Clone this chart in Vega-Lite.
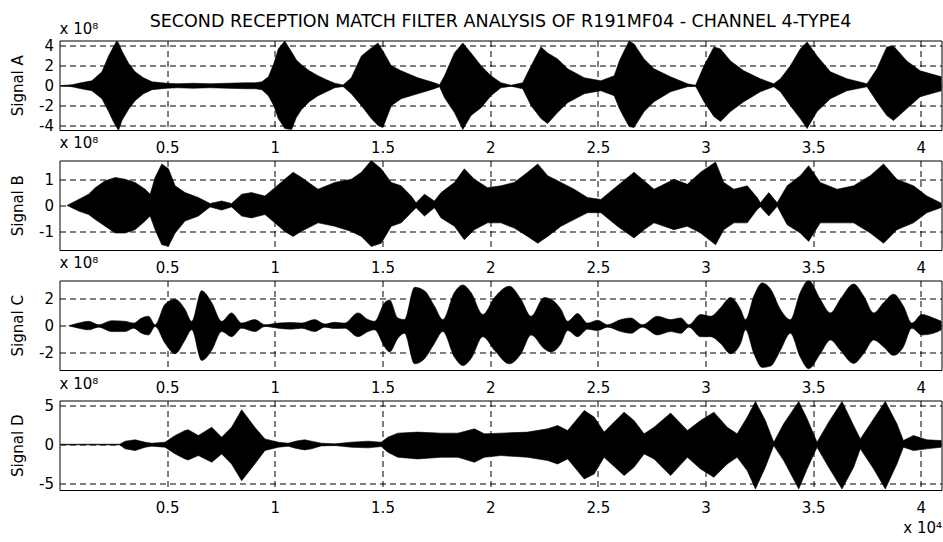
{
  "$schema": "https://vega.github.io/schema/vega-lite/v6.json",
  "padding": {"left": 9.5, "top": 12.5, "right": 2, "bottom": 11},
  "bounds": "flush",
  "spacing": 30,
  "background": "white",
  "title": {"text": "SECOND RECEPTION MATCH FILTER ANALYSIS OF R191MF04 - CHANNEL 4-TYPE4", "fontSize": 17.5, "fontWeight": "normal", "font": "DejaVu Sans", "color": "black", "anchor": "middle", "frame": "group", "baseline": "alphabetic", "offset": -23.5},
  "datasets": {
    "A": [
      {"t": 0.007, "hi": 0.02, "lo": -0.02}, {"t": 0.058, "hi": 0.1, "lo": -0.1}, {"t": 0.1, "hi": 0.3, "lo": -0.3}, {"t": 0.15, "hi": 0.5, "lo": -0.5},
      {"t": 0.197, "hi": 1.4, "lo": -1.3}, {"t": 0.228, "hi": 3.0, "lo": -2.6}, {"t": 0.25, "hi": 3.9, "lo": -3.6}, {"t": 0.266, "hi": 4.5, "lo": -4.2},
      {"t": 0.274, "hi": 4.3, "lo": -4.5}, {"t": 0.29, "hi": 3.5, "lo": -3.5}, {"t": 0.32, "hi": 2.3, "lo": -2.4}, {"t": 0.351, "hi": 1.4, "lo": -1.5},
      {"t": 0.39, "hi": 0.8, "lo": -0.8}, {"t": 0.43, "hi": 0.4, "lo": -0.4}, {"t": 0.475, "hi": 0.3, "lo": -0.3}, {"t": 0.5, "hi": 0.25, "lo": -0.25},
      {"t": 0.55, "hi": 0.2, "lo": -0.2}, {"t": 0.62, "hi": 0.25, "lo": -0.25}, {"t": 0.7, "hi": 0.2, "lo": -0.2}, {"t": 0.78, "hi": 0.25, "lo": -0.25},
      {"t": 0.86, "hi": 0.3, "lo": -0.3}, {"t": 0.91, "hi": 0.3, "lo": -0.3}, {"t": 0.94, "hi": 0.4, "lo": -0.4}, {"t": 0.97, "hi": 0.9, "lo": -1.0},
      {"t": 0.995, "hi": 2.2, "lo": -2.0}, {"t": 1.016, "hi": 3.7, "lo": -3.3}, {"t": 1.046, "hi": 4.5, "lo": -4.3}, {"t": 1.078, "hi": 3.4, "lo": -4.4},
      {"t": 1.1, "hi": 2.6, "lo": -3.2}, {"t": 1.124, "hi": 2.1, "lo": -2.4}, {"t": 1.16, "hi": 1.5, "lo": -1.6}, {"t": 1.201, "hi": 1.0, "lo": -1.0},
      {"t": 1.24, "hi": 0.6, "lo": -0.6}, {"t": 1.278, "hi": 0.25, "lo": -0.2}, {"t": 1.317, "hi": 0.08, "lo": -0.08}, {"t": 1.355, "hi": 0.8, "lo": -0.8},
      {"t": 1.402, "hi": 3.0, "lo": -2.0}, {"t": 1.448, "hi": 3.8, "lo": -3.3}, {"t": 1.479, "hi": 4.3, "lo": -4.0}, {"t": 1.502, "hi": 3.5, "lo": -4.2},
      {"t": 1.541, "hi": 2.0, "lo": -2.0}, {"t": 1.587, "hi": 1.5, "lo": -1.3}, {"t": 1.664, "hi": 0.8, "lo": -0.8}, {"t": 1.741, "hi": 0.3, "lo": -0.3},
      {"t": 1.765, "hi": 0.1, "lo": -0.1}, {"t": 1.788, "hi": 1.0, "lo": -1.2}, {"t": 1.834, "hi": 3.3, "lo": -2.7}, {"t": 1.873, "hi": 4.3, "lo": -4.4},
      {"t": 1.911, "hi": 3.3, "lo": -3.0}, {"t": 1.958, "hi": 2.0, "lo": -2.2}, {"t": 2.004, "hi": 1.0, "lo": -1.0}, {"t": 2.05, "hi": 0.3, "lo": -0.2},
      {"t": 2.097, "hi": 0.05, "lo": -0.05}, {"t": 2.151, "hi": 0.3, "lo": -0.3}, {"t": 2.19, "hi": 2.0, "lo": -2.0}, {"t": 2.236, "hi": 3.9, "lo": -3.3},
      {"t": 2.267, "hi": 3.3, "lo": -3.8}, {"t": 2.313, "hi": 2.7, "lo": -2.7}, {"t": 2.36, "hi": 1.7, "lo": -1.7}, {"t": 2.437, "hi": 0.8, "lo": -0.8},
      {"t": 2.514, "hi": 0.5, "lo": -0.5}, {"t": 2.576, "hi": 1.0, "lo": -1.0}, {"t": 2.6, "hi": 2.5, "lo": -2.3}, {"t": 2.622, "hi": 3.5, "lo": -3.2},
      {"t": 2.645, "hi": 4.5, "lo": -4.1}, {"t": 2.668, "hi": 4.2, "lo": -4.2}, {"t": 2.715, "hi": 2.7, "lo": -2.6}, {"t": 2.761, "hi": 1.7, "lo": -1.6},
      {"t": 2.838, "hi": 0.9, "lo": -0.6}, {"t": 2.916, "hi": 0.2, "lo": -0.1}, {"t": 2.954, "hi": 0.05, "lo": -0.05}, {"t": 2.993, "hi": 2.0, "lo": -1.6},
      {"t": 3.039, "hi": 3.9, "lo": -3.1}, {"t": 3.07, "hi": 3.7, "lo": -3.6}, {"t": 3.116, "hi": 2.5, "lo": -2.6}, {"t": 3.178, "hi": 1.5, "lo": -1.6},
      {"t": 3.255, "hi": 0.7, "lo": -0.6}, {"t": 3.317, "hi": 0.2, "lo": -0.1}, {"t": 3.348, "hi": 0.7, "lo": -0.6}, {"t": 3.394, "hi": 2.0, "lo": -2.0},
      {"t": 3.44, "hi": 3.7, "lo": -3.3}, {"t": 3.472, "hi": 4.4, "lo": -4.3}, {"t": 3.518, "hi": 3.0, "lo": -2.6}, {"t": 3.58, "hi": 1.4, "lo": -1.3},
      {"t": 3.657, "hi": 0.7, "lo": -0.5}, {"t": 3.75, "hi": 0.2, "lo": -0.1}, {"t": 3.796, "hi": 1.7, "lo": -1.6}, {"t": 3.842, "hi": 3.9, "lo": -3.0},
      {"t": 3.873, "hi": 4.0, "lo": -3.5}, {"t": 3.935, "hi": 2.5, "lo": -2.3}, {"t": 3.997, "hi": 1.5, "lo": -1.1}, {"t": 4.096, "hi": 0.9, "lo": -0.5}
    ],
    "B": [
      {"t": 0.035, "hi": 0.0, "lo": 0.0}, {"t": 0.089, "hi": 0.23, "lo": -0.22}, {"t": 0.135, "hi": 0.43, "lo": -0.35}, {"t": 0.166, "hi": 0.68, "lo": -0.54},
      {"t": 0.212, "hi": 0.94, "lo": -0.8}, {"t": 0.259, "hi": 1.07, "lo": -1.06}, {"t": 0.305, "hi": 1.0, "lo": -1.06}, {"t": 0.351, "hi": 0.88, "lo": -0.93},
      {"t": 0.398, "hi": 0.62, "lo": -0.6}, {"t": 0.421, "hi": 0.43, "lo": -0.41}, {"t": 0.444, "hi": 1.07, "lo": -0.93}, {"t": 0.475, "hi": 1.59, "lo": -1.51},
      {"t": 0.506, "hi": 1.4, "lo": -1.57}, {"t": 0.537, "hi": 0.75, "lo": -1.06}, {"t": 0.583, "hi": 0.49, "lo": -0.6}, {"t": 0.645, "hi": 0.3, "lo": -0.41},
      {"t": 0.699, "hi": 0.07, "lo": -0.06}, {"t": 0.753, "hi": 0.17, "lo": -0.18}, {"t": 0.799, "hi": 0.07, "lo": -0.06}, {"t": 0.846, "hi": 0.43, "lo": -0.41},
      {"t": 0.892, "hi": 0.49, "lo": -0.48}, {"t": 0.954, "hi": 0.36, "lo": -0.35}, {"t": 1.0, "hi": 0.68, "lo": -0.67}, {"t": 1.046, "hi": 1.0, "lo": -1.0},
      {"t": 1.085, "hi": 1.27, "lo": -1.19}, {"t": 1.124, "hi": 1.07, "lo": -0.99}, {"t": 1.201, "hi": 0.62, "lo": -0.67}, {"t": 1.278, "hi": 0.88, "lo": -0.8},
      {"t": 1.355, "hi": 1.0, "lo": -1.0}, {"t": 1.402, "hi": 1.27, "lo": -1.19}, {"t": 1.448, "hi": 1.72, "lo": -1.58}, {"t": 1.494, "hi": 1.4, "lo": -1.45},
      {"t": 1.541, "hi": 0.88, "lo": -0.8}, {"t": 1.587, "hi": 0.75, "lo": -0.67}, {"t": 1.633, "hi": 0.36, "lo": -0.28}, {"t": 1.656, "hi": 0.1, "lo": -0.09},
      {"t": 1.695, "hi": 0.43, "lo": -0.41}, {"t": 1.741, "hi": 0.17, "lo": -0.09}, {"t": 1.772, "hi": 0.49, "lo": -0.48}, {"t": 1.834, "hi": 0.88, "lo": -0.8},
      {"t": 1.88, "hi": 1.4, "lo": -1.32}, {"t": 1.927, "hi": 1.0, "lo": -0.93}, {"t": 1.988, "hi": 0.68, "lo": -0.67}, {"t": 2.05, "hi": 0.75, "lo": -0.67},
      {"t": 2.112, "hi": 0.88, "lo": -0.87}, {"t": 2.174, "hi": 1.27, "lo": -1.19}, {"t": 2.221, "hi": 1.59, "lo": -1.45}, {"t": 2.267, "hi": 1.14, "lo": -1.19},
      {"t": 2.329, "hi": 0.88, "lo": -0.8}, {"t": 2.39, "hi": 0.62, "lo": -0.54}, {"t": 2.452, "hi": 0.3, "lo": -0.28}, {"t": 2.514, "hi": 0.23, "lo": -0.28},
      {"t": 2.591, "hi": 0.75, "lo": -0.8}, {"t": 2.668, "hi": 1.27, "lo": -1.25}, {"t": 2.715, "hi": 0.94, "lo": -0.93}, {"t": 2.761, "hi": 0.62, "lo": -0.67},
      {"t": 2.854, "hi": 1.0, "lo": -0.93}, {"t": 2.916, "hi": 0.81, "lo": -0.8}, {"t": 2.977, "hi": 1.27, "lo": -1.06}, {"t": 3.047, "hi": 1.66, "lo": -1.51},
      {"t": 3.085, "hi": 0.88, "lo": -0.93}, {"t": 3.132, "hi": 0.62, "lo": -0.67}, {"t": 3.194, "hi": 0.75, "lo": -0.67}, {"t": 3.24, "hi": 0.3, "lo": -0.16},
      {"t": 3.255, "hi": 0.1, "lo": -0.05}, {"t": 3.294, "hi": 0.49, "lo": -0.41}, {"t": 3.333, "hi": 0.1, "lo": -0.03}, {"t": 3.379, "hi": 0.75, "lo": -0.74},
      {"t": 3.44, "hi": 1.14, "lo": -1.06}, {"t": 3.479, "hi": 1.52, "lo": -1.38}, {"t": 3.533, "hi": 0.88, "lo": -0.67}, {"t": 3.611, "hi": 0.62, "lo": -0.67},
      {"t": 3.688, "hi": 0.75, "lo": -0.67}, {"t": 3.765, "hi": 1.14, "lo": -1.06}, {"t": 3.827, "hi": 1.59, "lo": -1.45}, {"t": 3.889, "hi": 1.0, "lo": -0.93},
      {"t": 3.966, "hi": 0.75, "lo": -0.67}, {"t": 4.028, "hi": 0.36, "lo": -0.28}, {"t": 4.096, "hi": 0.08, "lo": -0.08}
    ],
    "C": [
      {"t": 0.043, "hi": 0.0, "lo": 0.0}, {"t": 0.089, "hi": 0.2, "lo": -0.18}, {"t": 0.135, "hi": 0.33, "lo": -0.3}, {"t": 0.182, "hi": 0.08, "lo": -0.1},
      {"t": 0.243, "hi": 0.38, "lo": -0.43}, {"t": 0.305, "hi": 0.33, "lo": -0.43}, {"t": 0.344, "hi": 0.2, "lo": -0.18}, {"t": 0.382, "hi": 0.58, "lo": -0.56},
      {"t": 0.413, "hi": 0.71, "lo": -0.68}, {"t": 0.444, "hi": 0.08, "lo": -0.05}, {"t": 0.49, "hi": 1.6, "lo": -1.3}, {"t": 0.537, "hi": 1.97, "lo": -2.08},
      {"t": 0.583, "hi": 1.22, "lo": -1.06}, {"t": 0.614, "hi": 0.33, "lo": -0.3}, {"t": 0.66, "hi": 2.6, "lo": -2.58}, {"t": 0.707, "hi": 1.72, "lo": -1.82},
      {"t": 0.753, "hi": 0.33, "lo": -0.43}, {"t": 0.799, "hi": 0.96, "lo": -0.81}, {"t": 0.846, "hi": 0.2, "lo": -0.18}, {"t": 0.907, "hi": 0.46, "lo": -0.43},
      {"t": 0.954, "hi": 0.08, "lo": -0.05}, {"t": 1.016, "hi": 0.2, "lo": -0.18}, {"t": 1.077, "hi": 0.25, "lo": -0.25}, {"t": 1.124, "hi": 0.2, "lo": -0.18},
      {"t": 1.185, "hi": 0.46, "lo": -0.43}, {"t": 1.232, "hi": 0.13, "lo": -0.1}, {"t": 1.278, "hi": 0.26, "lo": -0.2}, {"t": 1.324, "hi": 0.2, "lo": -0.18},
      {"t": 1.386, "hi": 0.96, "lo": -0.81}, {"t": 1.433, "hi": 0.46, "lo": -0.43}, {"t": 1.463, "hi": 0.33, "lo": -0.3}, {"t": 1.51, "hi": 1.72, "lo": -1.57},
      {"t": 1.533, "hi": 1.92, "lo": -1.95}, {"t": 1.571, "hi": 0.58, "lo": -0.94}, {"t": 1.602, "hi": 0.46, "lo": -0.56}, {"t": 1.649, "hi": 2.86, "lo": -2.83},
      {"t": 1.695, "hi": 2.6, "lo": -2.45}, {"t": 1.741, "hi": 1.47, "lo": -1.32}, {"t": 1.78, "hi": 0.46, "lo": -0.43}, {"t": 1.834, "hi": 2.48, "lo": -2.33},
      {"t": 1.873, "hi": 3.04, "lo": -2.96}, {"t": 1.911, "hi": 2.48, "lo": -2.45}, {"t": 1.966, "hi": 0.84, "lo": -0.81}, {"t": 2.02, "hi": 2.1, "lo": -1.82},
      {"t": 2.089, "hi": 2.94, "lo": -2.83}, {"t": 2.143, "hi": 1.97, "lo": -2.08}, {"t": 2.19, "hi": 0.71, "lo": -0.68}, {"t": 2.251, "hi": 2.1, "lo": -1.7},
      {"t": 2.282, "hi": 1.97, "lo": -1.95}, {"t": 2.329, "hi": 1.22, "lo": -1.32}, {"t": 2.36, "hi": 0.33, "lo": -0.35}, {"t": 2.406, "hi": 0.91, "lo": -0.81},
      {"t": 2.452, "hi": 0.2, "lo": -0.25}, {"t": 2.499, "hi": 0.41, "lo": -0.35}, {"t": 2.545, "hi": 0.08, "lo": -0.1}, {"t": 2.607, "hi": 0.46, "lo": -0.43},
      {"t": 2.653, "hi": 0.58, "lo": -0.56}, {"t": 2.707, "hi": 0.08, "lo": -0.1}, {"t": 2.777, "hi": 0.71, "lo": -0.68}, {"t": 2.838, "hi": 0.46, "lo": -0.43},
      {"t": 2.885, "hi": 0.58, "lo": -0.56}, {"t": 2.923, "hi": 0.08, "lo": -0.1}, {"t": 2.977, "hi": 0.84, "lo": -0.81}, {"t": 3.024, "hi": 0.71, "lo": -0.81},
      {"t": 3.07, "hi": 1.34, "lo": -1.32}, {"t": 3.116, "hi": 2.1, "lo": -2.08}, {"t": 3.163, "hi": 1.22, "lo": -1.32}, {"t": 3.186, "hi": 0.46, "lo": -0.3},
      {"t": 3.225, "hi": 2.23, "lo": -2.08}, {"t": 3.263, "hi": 3.19, "lo": -3.1}, {"t": 3.302, "hi": 2.74, "lo": -3.0}, {"t": 3.348, "hi": 1.22, "lo": -1.82},
      {"t": 3.394, "hi": 0.46, "lo": -0.56}, {"t": 3.44, "hi": 2.48, "lo": -2.33}, {"t": 3.479, "hi": 3.37, "lo": -3.2}, {"t": 3.533, "hi": 1.97, "lo": -2.08},
      {"t": 3.58, "hi": 0.96, "lo": -1.06}, {"t": 3.626, "hi": 1.97, "lo": -1.82}, {"t": 3.688, "hi": 3.11, "lo": -2.8}, {"t": 3.734, "hi": 2.23, "lo": -2.08},
      {"t": 3.781, "hi": 0.96, "lo": -1.06}, {"t": 3.827, "hi": 1.72, "lo": -1.57}, {"t": 3.873, "hi": 2.35, "lo": -2.2}, {"t": 3.919, "hi": 1.47, "lo": -1.57},
      {"t": 3.958, "hi": 0.2, "lo": -0.18}, {"t": 4.005, "hi": 0.84, "lo": -0.68}, {"t": 4.058, "hi": 0.58, "lo": -0.56}, {"t": 4.096, "hi": 0.33, "lo": -0.3}
    ],
    "D": [
      {"t": 0.007, "hi": 0.04, "lo": -0.04}, {"t": 0.28, "hi": 0.05, "lo": -0.05}, {"t": 0.305, "hi": 0.43, "lo": -0.55}, {"t": 0.351, "hi": 0.6, "lo": -0.77},
      {"t": 0.398, "hi": 0.3, "lo": -0.34}, {"t": 0.429, "hi": 0.17, "lo": -0.21}, {"t": 0.49, "hi": 0.3, "lo": -0.34}, {"t": 0.537, "hi": 1.15, "lo": -1.19},
      {"t": 0.583, "hi": 1.79, "lo": -1.83}, {"t": 0.598, "hi": 1.87, "lo": -1.96}, {"t": 0.645, "hi": 1.15, "lo": -1.4}, {"t": 0.707, "hi": 2.2, "lo": -2.25},
      {"t": 0.753, "hi": 0.94, "lo": -1.19}, {"t": 0.799, "hi": 2.2, "lo": -2.47}, {"t": 0.846, "hi": 4.42, "lo": -4.6}, {"t": 0.907, "hi": 2.2, "lo": -2.47},
      {"t": 0.954, "hi": 0.72, "lo": -0.77}, {"t": 1.016, "hi": 0.3, "lo": -0.34}, {"t": 1.062, "hi": 0.17, "lo": -0.21}, {"t": 1.1, "hi": 0.45, "lo": -0.5},
      {"t": 1.139, "hi": 0.6, "lo": -0.68}, {"t": 1.17, "hi": 0.43, "lo": -0.55}, {"t": 1.216, "hi": 0.17, "lo": -0.17}, {"t": 1.278, "hi": 0.09, "lo": -0.13},
      {"t": 1.355, "hi": 0.3, "lo": -0.34}, {"t": 1.433, "hi": 0.43, "lo": -0.42}, {"t": 1.494, "hi": 0.3, "lo": -0.26}, {"t": 1.525, "hi": 0.94, "lo": -0.98},
      {"t": 1.571, "hi": 1.45, "lo": -1.62}, {"t": 1.664, "hi": 1.58, "lo": -1.83}, {"t": 1.772, "hi": 1.45, "lo": -1.62}, {"t": 1.85, "hi": 1.45, "lo": -1.62},
      {"t": 1.927, "hi": 2.0, "lo": -2.25}, {"t": 1.973, "hi": 1.36, "lo": -1.62}, {"t": 2.05, "hi": 1.45, "lo": -1.4}, {"t": 2.174, "hi": 1.58, "lo": -1.62},
      {"t": 2.267, "hi": 2.0, "lo": -2.04}, {"t": 2.313, "hi": 2.42, "lo": -2.47}, {"t": 2.36, "hi": 1.79, "lo": -1.83}, {"t": 2.437, "hi": 4.34, "lo": -4.38},
      {"t": 2.483, "hi": 3.49, "lo": -3.74}, {"t": 2.529, "hi": 1.58, "lo": -1.62}, {"t": 2.622, "hi": 4.12, "lo": -3.95}, {"t": 2.668, "hi": 3.06, "lo": -2.9},
      {"t": 2.715, "hi": 1.36, "lo": -1.19}, {"t": 2.761, "hi": 2.2, "lo": -1.83}, {"t": 2.838, "hi": 4.0, "lo": -3.95}, {"t": 2.916, "hi": 1.79, "lo": -1.62},
      {"t": 2.977, "hi": 3.06, "lo": -3.1}, {"t": 3.039, "hi": 4.12, "lo": -4.17}, {"t": 3.101, "hi": 2.2, "lo": -2.47}, {"t": 3.147, "hi": 1.36, "lo": -1.62},
      {"t": 3.194, "hi": 3.49, "lo": -3.32}, {"t": 3.232, "hi": 5.48, "lo": -5.65}, {"t": 3.278, "hi": 3.06, "lo": -2.89}, {"t": 3.317, "hi": 0.3, "lo": -0.13},
      {"t": 3.363, "hi": 2.64, "lo": -2.04}, {"t": 3.433, "hi": 5.48, "lo": -5.65}, {"t": 3.472, "hi": 3.27, "lo": -3.1}, {"t": 3.518, "hi": 0.3, "lo": -0.34},
      {"t": 3.572, "hi": 2.85, "lo": -2.89}, {"t": 3.634, "hi": 5.48, "lo": -5.65}, {"t": 3.688, "hi": 2.42, "lo": -2.89}, {"t": 3.719, "hi": 0.72, "lo": -0.55},
      {"t": 3.781, "hi": 3.27, "lo": -3.1}, {"t": 3.835, "hi": 5.48, "lo": -5.65}, {"t": 3.889, "hi": 2.64, "lo": -2.47}, {"t": 3.919, "hi": 0.51, "lo": -0.34},
      {"t": 3.966, "hi": 1.15, "lo": -0.77}, {"t": 4.028, "hi": 0.6, "lo": -0.55}, {"t": 4.096, "hi": 0.51, "lo": -0.34}
    ]
  },
  "vconcat": [
    {
      "width": 882, "height": 89.5,
      "data": {"name": "A"},
      "title": {"text": "x 10⁸", "anchor": "start", "frame": "group", "fontSize": 15, "fontWeight": "normal", "baseline": "alphabetic", "offset": -10},
      "mark": {"type": "area", "color": "black", "stroke": "black", "strokeWidth": 0.6, "clip": true},
      "encoding": {
        "x": {"field": "t", "type": "quantitative", "scale": {"domain": [0, 4.096], "nice": false, "zero": false},
              "axis": {"values": [0.5, 1, 1.5, 2, 2.5, 3, 3.5, 4], "title": null, "labelExpr": "'' + datum.value"}},
        "y": {"field": "hi", "type": "quantitative", "scale": {"domain": [-4.45, 4.55], "nice": false, "zero": false},
              "axis": {"values": [-4, -2, 0, 2, 4], "title": "Signal A", "labelExpr": "'' + datum.value"}},
        "y2": {"field": "lo"}
      }
    },
    {
      "width": 882, "height": 89.5,
      "data": {"name": "B"},
      "title": {"text": "x 10⁸", "anchor": "start", "frame": "group", "fontSize": 15, "fontWeight": "normal", "baseline": "alphabetic", "offset": -2},
      "mark": {"type": "area", "color": "black", "stroke": "black", "strokeWidth": 0.6, "clip": true},
      "encoding": {
        "x": {"field": "t", "type": "quantitative", "scale": {"domain": [0, 4.096], "nice": false, "zero": false},
              "axis": {"values": [0.5, 1, 1.5, 2, 2.5, 3, 3.5, 4], "title": null, "labelExpr": "'' + datum.value"}},
        "y": {"field": "hi", "type": "quantitative", "scale": {"domain": [-1.71, 1.72], "nice": false, "zero": false},
              "axis": {"values": [-1, 0, 1], "title": "Signal B", "labelExpr": "'' + datum.value"}},
        "y2": {"field": "lo"}
      }
    },
    {
      "width": 882, "height": 89.5,
      "data": {"name": "C"},
      "title": {"text": "x 10⁸", "anchor": "start", "frame": "group", "fontSize": 15, "fontWeight": "normal", "baseline": "alphabetic", "offset": -2.5},
      "mark": {"type": "area", "color": "black", "stroke": "black", "strokeWidth": 0.6, "clip": true, "interpolate": "monotone"},
      "encoding": {
        "x": {"field": "t", "type": "quantitative", "scale": {"domain": [0, 4.096], "nice": false, "zero": false},
              "axis": {"values": [0.5, 1, 1.5, 2, 2.5, 3, 3.5, 4], "title": null, "labelExpr": "'' + datum.value"}},
        "y": {"field": "hi", "type": "quantitative", "scale": {"domain": [-3.29, 3.37], "nice": false, "zero": false},
              "axis": {"values": [-2, 0, 2], "title": "Signal C", "labelExpr": "'' + datum.value"}},
        "y2": {"field": "lo"}
      }
    },
    {
      "width": 882, "height": 89.5,
      "data": {"name": "D"},
      "title": {"text": "x 10⁸", "anchor": "start", "frame": "group", "fontSize": 15, "fontWeight": "normal", "baseline": "alphabetic", "offset": -6},
      "mark": {"type": "area", "color": "black", "stroke": "black", "strokeWidth": 0.6, "clip": true},
      "encoding": {
        "x": {"field": "t", "type": "quantitative", "scale": {"domain": [0, 4.096], "nice": false, "zero": false},
              "axis": {"values": [0.5, 1, 1.5, 2, 2.5, 3, 3.5, 4], "title": "x 10⁴", "labelExpr": "'' + datum.value",
                       "titleX": 882, "titleY": 42, "titleAlign": "right", "titleBaseline": "alphabetic", "titleFontSize": 15}},
        "y": {"field": "hi", "type": "quantitative", "scale": {"domain": [-5.78, 5.6], "nice": false, "zero": false},
              "axis": {"values": [-5, 0, 5], "title": "Signal D", "labelExpr": "'' + datum.value"}},
        "y2": {"field": "lo"}
      }
    }
  ],
  "config": {
    "font": "DejaVu Sans",
    "view": {"stroke": "black", "strokeWidth": 1, "fill": "white"},
    "axis": {"domain": false, "ticks": false, "grid": true, "gridColor": "black", "gridDash": [6, 4], "gridOpacity": 1, "gridWidth": 1,
             "labelColor": "black", "labelFontSize": 15, "labelFont": "DejaVu Sans", "titleFont": "DejaVu Sans", "titleFontWeight": "normal", "titleColor": "black", "titleFontSize": 15},
    "axisX": {"labelPadding": 10, "labelFlush": false, "labelOverlap": false},
    "axisY": {"labelPadding": 6, "titleX": -42, "titleY": 44.75, "titleAngle": -90, "titleAlign": "center", "titleBaseline": "middle"},
    "title": {"color": "black", "font": "DejaVu Sans"}
  }
}
